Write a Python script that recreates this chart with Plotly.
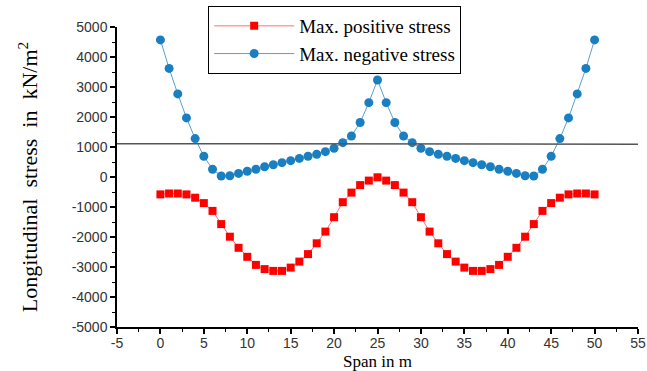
import plotly.graph_objects as go

span = list(range(0, 51))

pos_half = [-580, -550, -550, -580, -690, -870, -1130, -1570, -1990, -2360,
            -2660, -2930, -3070, -3130, -3130, -3020, -2820, -2570, -2210, -1820,
            -1340, -840, -520, -270, -120, -10]
neg_half = [4570, 3620, 2770, 1970, 1280, 690, 260, 35, 40, 120,
            190, 260, 340, 410, 478, 544, 620, 690, 760, 844,
            960, 1144, 1367, 1815, 2478, 3233]

max_positive = pos_half + pos_half[-2::-1]
max_negative = neg_half + neg_half[-2::-1]

ref_level = 1110

x_ticks = list(range(-5, 56, 5))
y_ticks = list(range(-5000, 5001, 1000))

SERIF = "Liberation Serif"
SANS = "Liberation Sans"

fig = go.Figure()
fig.add_trace(go.Scatter(
    x=span, y=max_positive, mode="lines+markers", name="Max. positive stress",
    line=dict(color="#ff7070", width=1),
    marker=dict(symbol="square", size=8, color="#ff0000"),
))
fig.add_trace(go.Scatter(
    x=span, y=max_negative, mode="lines+markers", name="Max. negative stress",
    line=dict(color="#5a9fd4", width=1),
    marker=dict(symbol="circle", size=9, color="#1a7fc1"),
))

fig.add_shape(type="line", xref="x", yref="y", x0=-5, x1=55, y0=ref_level, y1=ref_level - 15,
              line=dict(color="#555555", width=1.5))

axis_common = dict(
    showgrid=False, zeroline=False, showline=True, linecolor="black", linewidth=1.5,
    ticks="outside", ticklen=5, tickwidth=1.5, tickcolor="black",
    tickfont=dict(family=SANS, size=14, color="#333333"),
)

fig.update_xaxes(range=[-5, 55], tickvals=x_ticks, ticktext=[str(v) for v in x_ticks],
                 ticklabelstandoff=-3,
                 minor=dict(ticks="outside", ticklen=3, tickwidth=1, tickcolor="black",
                            tickvals=[v + 2.5 for v in x_ticks[:-1]]),
                 **axis_common)
fig.update_yaxes(range=[-5000, 5000], tickvals=y_ticks, ticktext=[str(v) for v in y_ticks],
                 title=dict(text="Longitudinal  stress  in  kN/m<sup>2</sup>",
                            font=dict(family=SERIF, size=22, color="black"),
                            standoff=28),
                 minor=dict(ticks="outside", ticklen=3, tickwidth=1, tickcolor="black",
                            tickvals=[v + 500 for v in y_ticks[:-1]]),
                 **axis_common)

fig.add_annotation(text="Span in m", xref="paper", yref="paper", x=0.5, y=-0.115,
                   xanchor="center", yanchor="middle", showarrow=False,
                   font=dict(family=SERIF, size=17, color="black"))

fig.update_layout(
    width=647, height=371,
    margin=dict(l=117, r=9, t=27, b=44, autoexpand=False),
    paper_bgcolor="white", plot_bgcolor="white",
    showlegend=True,
    legend=dict(x=0.175, y=1.07, xanchor="left", yanchor="top",
                bordercolor="black", borderwidth=1, bgcolor="white",
                font=dict(family=SERIF, size=19, color="black"),
                tracegroupgap=0, itemwidth=80),
)

fig.write_html("out.html")
